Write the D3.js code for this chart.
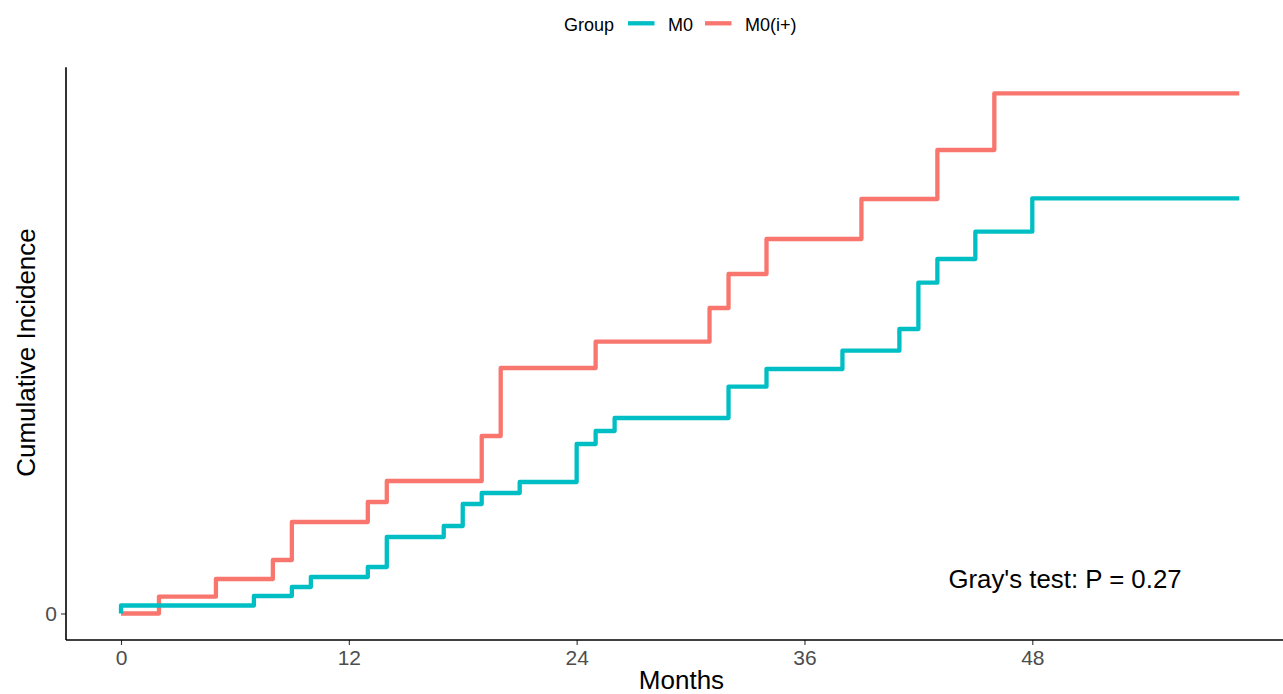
<!DOCTYPE html>
<html>
<head>
<meta charset="utf-8">
<script src="https://cdn.jsdelivr.net/npm/d3@7"></script>
<style>
  body { margin: 0; background: #fff; }
  svg { display: block; font-family: "Liberation Sans", Arial, sans-serif; }
</style>
</head>
<body>
<svg id="chart" width="1283" height="694"></svg>
<script>
// step times (months) and cumulative incidence for each group
var m0Times  = [0, 0, 7, 9, 10, 13, 14, 17, 18, 19, 21, 24, 25, 26, 32, 34, 38, 41, 42, 43, 45, 48, 58.9];
var m0Values = [0, 0.008, 0.0175, 0.0265, 0.0365, 0.0465, 0.0765, 0.0875, 0.1095, 0.1205, 0.1315, 0.1695, 0.1825, 0.1955, 0.2268, 0.2445, 0.2628, 0.2845, 0.3308, 0.3545, 0.3818, 0.4152, 0.4152];

var m0iTimes  = [0, 2, 5, 8, 9, 13, 14, 19, 20, 25, 31, 32, 34, 39, 43, 46, 58.9];
var m0iValues = [0, 0.0168, 0.0345, 0.0535, 0.0915, 0.1115, 0.1325, 0.1775, 0.2455, 0.2718, 0.3055, 0.3395, 0.3745, 0.4145, 0.4635, 0.5202, 0.5202];

var groups = ["M0", "M0(i+)"];
var groupColors = ["#00BFC4", "#F8766D"];
var xTicks = [0, 12, 24, 36, 48];
var yTicks = [0];

var svg = d3.select("#chart");

var x = d3.scaleLinear().domain([0, 48]).range([121, 1032.3]);
var y = d3.scaleLinear().domain([0, 0.52]).range([613.5, 93.5]);

var panel = {left: 66, right: 1283, top: 67.3, bottom: 640};

var series = [
  {name: groups[0], color: groupColors[0], pts: m0Times.map(function(t, i) { return [t, m0Values[i]]; })},
  {name: groups[1], color: groupColors[1], pts: m0iTimes.map(function(t, i) { return [t, m0iValues[i]]; })}
];

var line = d3.line()
    .x(function(d) { return x(d[0]); })
    .y(function(d) { return y(d[1]); })
    .curve(d3.curveStepAfter);

// draw red first so teal sits on top where they touch
svg.selectAll(".curve")
    .data(series.slice().reverse())
    .enter().append("path")
    .attr("class", "curve")
    .attr("d", function(d) { return line(d.pts); })
    .attr("fill", "none")
    .attr("stroke", function(d) { return d.color; })
    .attr("stroke-width", 4.3)
    .attr("stroke-linejoin", "round");

// x axis
var xAxis = d3.axisBottom(x)
    .tickValues(xTicks)
    .tickSize(5)
    .tickPadding(5)
    .tickSizeOuter(0);

var gx = svg.append("g")
    .attr("transform", "translate(0," + panel.bottom + ")")
    .call(xAxis);
gx.select(".domain").remove();
gx.selectAll(".tick line").attr("stroke", "#333").attr("stroke-width", 1.1);
gx.selectAll(".tick text")
    .attr("fill", "#4D4D4D")
    .style("font-size", "21px")
    .style("font-family", "'Liberation Sans', Arial, sans-serif");

// y axis
var yAxis = d3.axisLeft(y)
    .tickValues(yTicks)
    .tickFormat(d3.format("d"))
    .tickSize(5)
    .tickPadding(4)
    .tickSizeOuter(0);

var gy = svg.append("g")
    .attr("transform", "translate(" + panel.left + ",0)")
    .call(yAxis);
gy.select(".domain").remove();
gy.selectAll(".tick line").attr("stroke", "#333").attr("stroke-width", 1.1);
gy.selectAll(".tick text")
    .attr("fill", "#4D4D4D")
    .style("font-size", "21px")
    .style("font-family", "'Liberation Sans', Arial, sans-serif");

// axis lines
svg.append("line")
    .attr("x1", panel.left).attr("x2", panel.right)
    .attr("y1", panel.bottom).attr("y2", panel.bottom)
    .attr("stroke", "#000").attr("stroke-width", 1.6);
svg.append("line")
    .attr("x1", panel.left).attr("x2", panel.left)
    .attr("y1", panel.top).attr("y2", panel.bottom)
    .attr("stroke", "#000").attr("stroke-width", 1.6);

// axis titles
svg.append("text")
    .attr("x", (x(0) + 1240) / 2 + 1)
    .attr("y", 689)
    .attr("text-anchor", "middle")
    .style("font-size", "26px")
    .text("Months");

svg.append("text")
    .attr("transform", "translate(34.5,352.5) rotate(-90)")
    .attr("text-anchor", "middle")
    .style("font-size", "26px")
    .text("Cumulative Incidence");

// annotation
svg.append("text")
    .attr("x", 1065)
    .attr("y", 588)
    .attr("text-anchor", "middle")
    .style("font-size", "25.8px")
    .text("Gray's test: P = 0.27");

// legend
var legend = svg.append("g");
legend.append("text")
    .attr("x", 564).attr("y", 31)
    .style("font-size", "18px")
    .text("Group");

var keyX = [628, 705];
var labelX = [668, 745];
series.forEach(function(s, i) {
  legend.append("line")
      .attr("x1", keyX[i]).attr("x2", keyX[i] + 26.5)
      .attr("y1", 23.3).attr("y2", 23.3)
      .attr("stroke", s.color)
      .attr("stroke-width", 4.3);
  legend.append("text")
      .attr("x", labelX[i]).attr("y", 31)
      .style("font-size", "18px")
      .text(s.name);
});
</script>
</body>
</html>
